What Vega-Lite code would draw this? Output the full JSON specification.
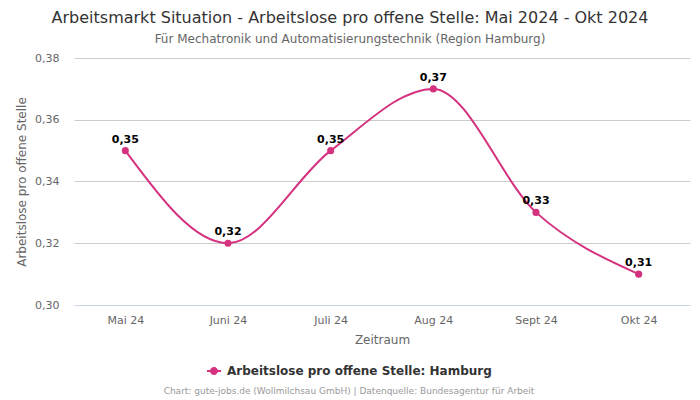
{
  "$schema": "https://vega.github.io/schema/vega-lite/v6.json",
  "width": 616,
  "height": 247,
  "autosize": {"type": "none"},
  "padding": {"left": 74, "top": 58, "right": 10, "bottom": 95},
  "background": "white",
  "config": {
    "locale": {"number": {"decimal": ",", "thousands": ".", "grouping": [3], "currency": ["", " €"]}},
    "font": "DejaVu Sans",
    "view": {"stroke": null},
    "axis": {"labelFont": "DejaVu Sans", "titleFont": "DejaVu Sans"}
  },
  "title": {
    "text": "Arbeitsmarkt Situation - Arbeitslose pro offene Stelle: Mai 2024 - Okt 2024",
    "subtitle": "Für Mechatronik und Automatisierungstechnik (Region Hamburg)",
    "anchor": "middle",
    "frame": "group",
    "dx": -32,
    "fontSize": 16,
    "fontWeight": "normal",
    "color": "#333333",
    "subtitleFontSize": 12,
    "subtitleColor": "#666666",
    "subtitlePadding": 8,
    "offset": 7
  },
  "data": {
    "values": [
      {"monat": "Mai 24", "wert": 0.35, "reihe": "Arbeitslose pro offene Stelle: Hamburg"},
      {"monat": "Juni 24", "wert": 0.32, "reihe": "Arbeitslose pro offene Stelle: Hamburg"},
      {"monat": "Juli 24", "wert": 0.35, "reihe": "Arbeitslose pro offene Stelle: Hamburg"},
      {"monat": "Aug 24", "wert": 0.37, "reihe": "Arbeitslose pro offene Stelle: Hamburg"},
      {"monat": "Sept 24", "wert": 0.33, "reihe": "Arbeitslose pro offene Stelle: Hamburg"},
      {"monat": "Okt 24", "wert": 0.31, "reihe": "Arbeitslose pro offene Stelle: Hamburg"}
    ]
  },
  "encoding": {
    "x": {
      "field": "monat",
      "type": "ordinal",
      "sort": null,
      "scale": {"type": "point", "padding": 0.5},
      "axis": {
        "title": "Zeitraum",
        "labelAngle": 0,
        "labelColor": "#666666",
        "labelFontSize": 11,
        "labelPadding": 9,
        "titleColor": "#666666",
        "titleFontSize": 12,
        "titleFontWeight": "normal",
        "titlePadding": 9,
        "domainColor": "#ccd6eb",
        "ticks": false,
        "grid": false
      }
    },
    "y": {
      "field": "wert",
      "type": "quantitative",
      "scale": {"domain": [0.30, 0.38], "nice": false, "zero": false},
      "axis": {
        "title": "Arbeitslose pro offene Stelle",
        "values": [0.30, 0.32, 0.34, 0.36, 0.38],
        "format": ".2f",
        "labelColor": "#666666",
        "labelFontSize": 11,
        "labelPadding": 15,
        "titleColor": "#666666",
        "titleFontSize": 12,
        "titleFontWeight": "normal",
        "titlePadding": 6,
        "domain": false,
        "ticks": false,
        "gridColor": "#cccccc"
      }
    }
  },
  "layer": [
    {
      "mark": {"type": "line", "interpolate": "monotone", "strokeWidth": 2},
      "encoding": {
        "color": {
          "field": "reihe",
          "type": "nominal",
          "scale": {"range": ["#d4317f"]},
          "legend": {
            "orient": "none",
            "legendX": 90,
            "legendY": 306,
            "title": "Chart: gute-jobs.de (Wollmilchsau GmbH) | Datenquelle: Bundesagentur für Arbeit",
            "titleOrient": "bottom",
            "titleFontSize": 9,
            "titleFontWeight": "normal",
            "titleColor": "#999999",
            "titleAnchor": "middle",
            "titlePadding": 10,
            "titleLimit": 600,
            "labelLimit": 400,
            "labelFontSize": 12,
            "labelFontWeight": "bold",
            "labelColor": "#333333",
            "labelOffset": 6,
            "symbolType": "M-1,-0.14 L1,-0.14 L1,0.14 L-1,0.14 Z M-0.57,0 A0.57,0.57 0 1,1 0.57,0 A0.57,0.57 0 1,1 -0.57,0 Z",
            "symbolSize": 196,
            "symbolFillColor": "#d4317f",
            "symbolStrokeWidth": 0
          }
        }
      }
    },
    {
      "mark": {"type": "point", "filled": true, "size": 50, "opacity": 1, "color": "#d4317f"}
    },
    {
      "mark": {"type": "text", "dy": -11, "fontSize": 11, "fontWeight": "bold", "color": "#000000"},
      "encoding": {
        "text": {"field": "wert", "type": "quantitative", "format": ".2f"}
      }
    }
  ]
}
